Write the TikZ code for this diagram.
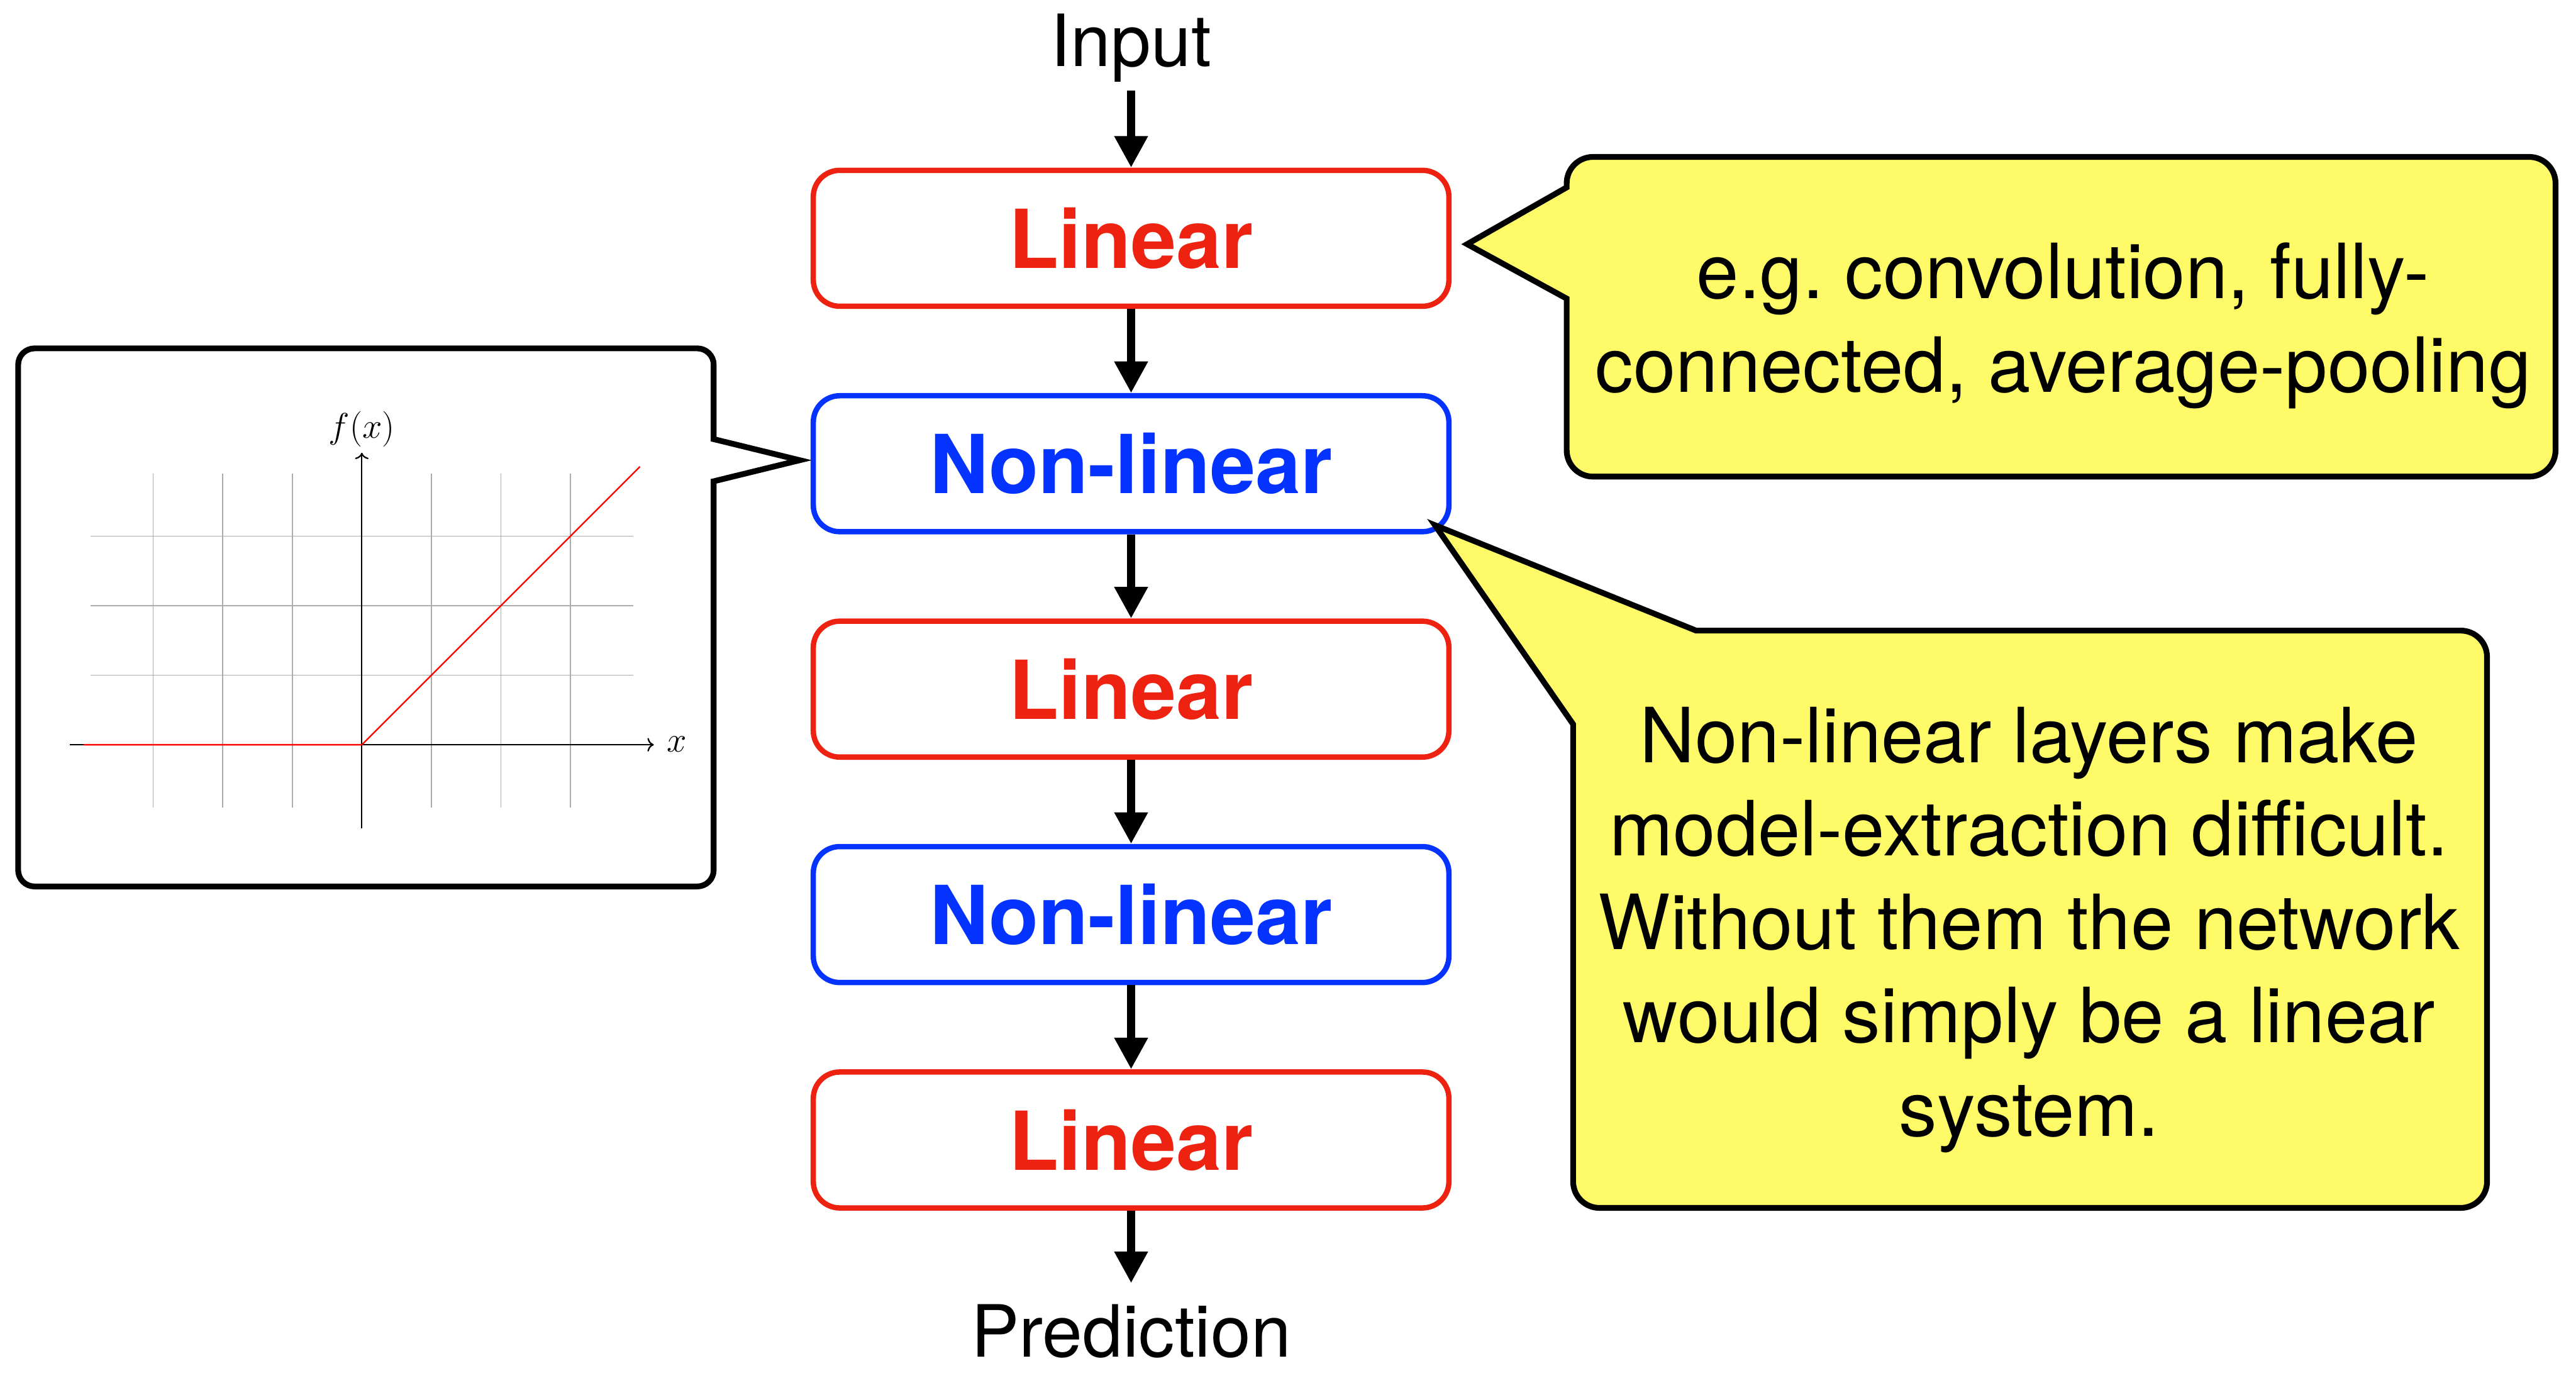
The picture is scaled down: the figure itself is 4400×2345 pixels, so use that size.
\documentclass[tikz,border=0pt]{standalone}
\usepackage{fontspec}
\setmainfont{TeX Gyre Heros}
\usetikzlibrary{arrows.meta}
\definecolor{layerred}{RGB}{237,34,16}
\definecolor{layerblue}{RGB}{4,51,255}
\definecolor{noteyellow}{RGB}{255,251,104}
\frenchspacing
\begin{document}
\begin{tikzpicture}[x=0.01cm, y=0.01cm,
  layer/.style={draw, line width=2.6pt, rounded corners=0.45cm, fill=white,
    minimum width=10.85cm, minimum height=2.32cm, inner sep=0pt,
    font=\fontsize{39.5}{47}\selectfont\bfseries},
  linear/.style={layer, draw=layerred, text=layerred},
  nonlinear/.style={layer, draw=layerblue, text=layerblue},
  io/.style={inner sep=4pt, font=\fontsize{35}{42}\selectfont},
  flow/.style={line width=4pt, -{Triangle[length=0.54cm, width=0.54cm]}},
  note/.style={draw=black, line width=2.8pt, line join=miter},
  notetext/.style={align=center, inner sep=0pt, font=\fontsize{37}{45.4}\selectfont},
  gridline/.style={draw=gray!65, line width=0.5pt},
  axis/.style={draw=black, line width=0.7pt},
  mathlabel/.style={inner sep=0pt, font=\fontsize{16.8}{20}\selectfont},
]
\useasboundingbox (0,0) rectangle (4400,-2345);

% layer stack
\node[io, anchor=base] (in) at (1932,-113) {Input};
\node[linear]    (l1) at (1932,-407)  {Linear};
\node[nonlinear] (n1) at (1932,-792)  {Non-linear};
\node[linear]    (l2) at (1932,-1177) {Linear};
\node[nonlinear] (n2) at (1932,-1562) {Non-linear};
\node[linear]    (l3) at (1932,-1947) {Linear};
\node[io, inner sep=0pt, anchor=base] (out) at (1932,-2318) {Prediction};

\draw[flow] (in) -- (l1);
\draw[flow] (l1) -- (n1);
\draw[flow] (n1) -- (l2);
\draw[flow] (l2) -- (n2);
\draw[flow] (n2) -- (l3);
\draw[flow, shorten >=0.36cm] (l3) -- (out);

% callout: examples of linear layers
\path[note, fill=noteyellow]
  (2676,-320) -- (2676,-313) arc[start angle=180, end angle=90, radius=45]
  -- (4320,-268) arc[start angle=90, end angle=0, radius=45]
  -- (4365,-769) arc[start angle=0, end angle=-90, radius=45]
  -- (2721,-814) arc[start angle=-90, end angle=-180, radius=45]
  -- (2676,-510) -- (2506,-417) -- cycle;
\node[notetext] (ex) at (3524,-556) {e.g. convolution, fully-\\connected, average-pooling};

% callout: role of the non-linear layers
\path[note, fill=noteyellow]
  (2687,-1237) -- (2451,-897) -- (2897,-1077)
  -- (4203,-1077) arc[start angle=90, end angle=0, radius=45]
  -- (4248,-2018) arc[start angle=0, end angle=-90, radius=45]
  -- (2732,-2063) arc[start angle=-90, end angle=-180, radius=45]
  -- cycle;
\node[notetext] (why) at (3466,-1588) {Non-linear layers make\\model-extraction difficult.\\Without them the network\\would simply be a linear\\system.};

% callout: ReLU plot
\path[note, fill=white]
  (1219,-750) -- (1219,-623) arc[start angle=0, end angle=90, radius=28]
  -- (59,-595) arc[start angle=90, end angle=180, radius=28]
  -- (31,-1486) arc[start angle=180, end angle=270, radius=28]
  -- (1191,-1514) arc[start angle=270, end angle=360, radius=28]
  -- (1219,-822) -- (1366,-786) -- cycle;

\begin{scope}[shift={(618,-1272)}, x=1.187cm, y=1.187cm]
  \foreach \i in {-3,...,3} \draw[gridline] (\i,-0.9) -- (\i,3.9);
  \foreach \j in {1,2,3} \draw[gridline] (-3.9,\j) -- (3.9,\j);
  \draw[axis, ->] (-4.2,0) -- (4.2,0);
  \draw[axis, ->] (0,-1.2) -- (0,4.2);
  \draw[red, line width=0.7pt] (-4,0) -- (0,0) -- (4,4);
  \node[mathlabel, anchor=base] (fx) at (0,4.41) {$f(x)$};
  \node[mathlabel, anchor=base west] (xl) at (4.38,-0.1) {$x$};
\end{scope}
\end{tikzpicture}
\end{document}
